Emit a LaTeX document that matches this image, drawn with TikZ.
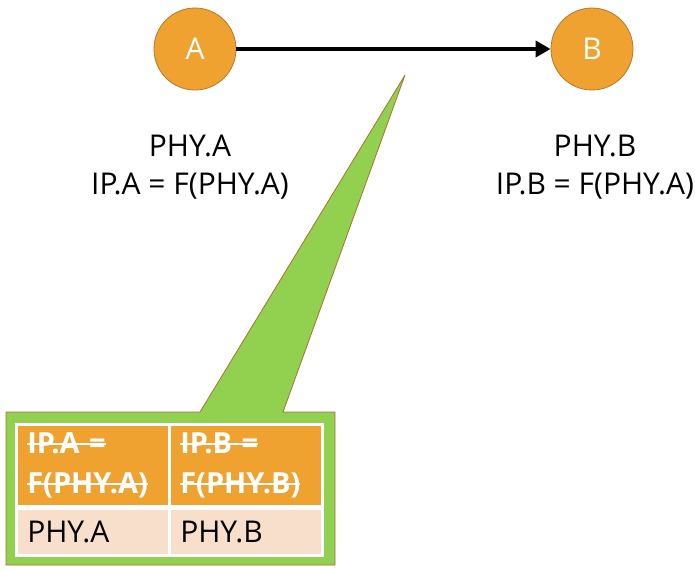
\documentclass[tikz,border=0pt]{standalone}
\usepackage{fontspec}
\setmainfont{Open Sans}
\usepackage{xcolor}
\usepackage{tikz}
\usetikzlibrary{arrows.meta, positioning}

\definecolor{nodeorange}{HTML}{F0A231}
\definecolor{nodeedge}{HTML}{B7792B}
\definecolor{calloutgreen}{HTML}{92D050}
\definecolor{calloutedge}{HTML}{A8732E}
\definecolor{rowpeach}{HTML}{F8DFCC}

\newcommand{\strikeout}[1]{\hbox{\setbox0\hbox{#1}\rlap{\rule[0.3em]{\wd0}{1.8pt}}\box0}}

\begin{document}
\begin{tikzpicture}[x=1pt, y=-1pt, >=Stealth,
    every node/.style={font=\fontsize{30}{38}\selectfont},
    host/.style={circle, fill=nodeorange, draw=nodeedge, thick, minimum size=82pt, inner sep=0pt, text=white},
    hostlabel/.style={align=center, inner sep=0pt},
    callout/.style={fill=calloutgreen, draw=calloutedge, thick},
    cell/.style={anchor=north west, draw=white, line width=2.5pt, minimum height=#1, text width=131pt, inner xsep=11pt, align=left},
    headcell/.style={cell=82pt, fill=nodeorange, text=white, font=\fontsize{29}{40}\selectfont\bfseries},
    bodycell/.style={cell=47pt, fill=rowpeach, text=black}]
    \useasboundingbox (0,0) rectangle (695,570);

    \node[host] (A) at (195,49) {A};
    \node[host] (B) at (592,49) {B};
    \draw[-{Triangle[length=15pt, width=16pt]}, line width=4.5pt] (A) -- (B);

    \node[hostlabel] (labA) at (190,167) {PHY.A\\IP.A = F(PHY.A)};
    \node[hostlabel] (labB) at (595,167) {PHY.B\\IP.B = F(PHY.A)};

    % callout with the table
    \draw[callout] (6,412) -- (200,412) -- (405,75) -- (283,412) -- (335,412)
        -- (335,565) -- (6,565) -- cycle;
    \node[headcell] (ipA)  at (15,423)  {\strikeout{IP.A =}\\\strikeout{F(PHY.A)}};
    \node[headcell] (ipB)  at (168,423) {\strikeout{IP.B =}\\\strikeout{F(PHY.B)}};
    \node[bodycell] (phyA) at (15,507)  {PHY.A};
    \node[bodycell] (phyB) at (168,507) {PHY.B};
\end{tikzpicture}
\end{document}
